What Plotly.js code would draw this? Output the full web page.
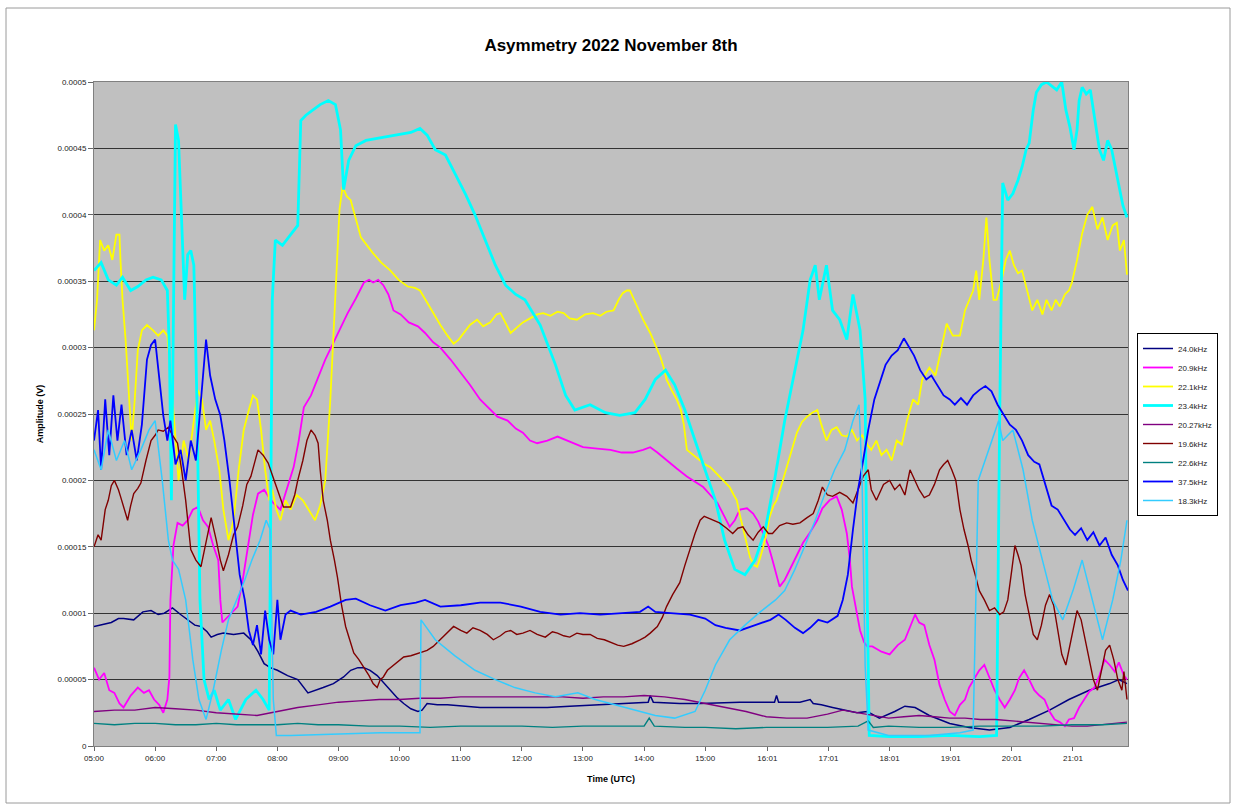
<!DOCTYPE html>
<html>
<head>
<meta charset="utf-8">
<script src="https://cdn.plot.ly/plotly-3.0.1.min.js"></script>
<style>
html,body{margin:0;padding:0;background:#fff;}
#chart{width:1235px;height:808px;}
</style>
</head>
<body>
<div id="chart"></div>
<script>
// ---- DATA (times UTC "HH:MM", amplitudes in microvolts) ----
const legendNames = ["24.0kHz","20.9kHz","22.1kHz","23.4kHz","20.27kHz","19.6kHz","22.6kHz","37.5kHz","18.3kHz"];
const seriesColors = ["#000080","#FF00FF","#FFFF00","#00FFFF","#800080","#800000","#008080","#0000FF","#33CCFF"];
const xTickLabels = ["05:00","06:00","07:00","08:00","09:00","10:00","11:00","12:00","13:00","14:00","15:00","16:01","17:01","18:01","19:01","20:01","21:01"];
const yTickVals = [0,0.00005,0.0001,0.00015,0.0002,0.00025,0.0003,0.00035,0.0004,0.00045,0.0005];
const yTickLabels = ["0","0.00005","0.0001","0.00015","0.0002","0.00025","0.0003","0.00035","0.0004","0.00045","0.0005"];

const t_240 = ["05:00","05:07","05:17","05:24","05:29","05:39","05:48","05:56","06:03","06:09","06:17","06:25","06:32","06:39","06:45","06:51","06:55","07:01","07:07","07:17","07:27","07:34","07:41","07:47","07:53","08:00","08:10","08:20","08:30","08:38","08:45","08:55","09:05","09:12","09:19","09:25","09:31","09:38","09:45","09:51","09:58","10:04","10:11","10:18","10:22","10:27","10:37","10:47","11:05","11:19","11:39","11:58","12:25","12:47","13:14","13:36","14:04","14:06","14:09","14:35","14:55","15:34","16:08","16:10","16:12","16:33","16:43","16:46","16:54","17:05","17:17","17:29","17:39","17:51","18:06","18:16","18:26","18:40","19:00","19:19","19:39","19:59","20:18","20:38","20:57","21:17","21:37","21:46","21:54"];
const uv_240 = [90,91,93,96,96,95,101,102,99,100,104,99,95,91,90,86,82,84,85,84,85,80,71,62,59,57,53,50,40,42,44,47,52,57,59,59,57,53,47,42,36,32,28,26,27,32,31,31,30,29,29,29,29,30,31,32,33,38,33,32,32,33,33,38,33,33,35,32,31,29,27,25,26,21,26,30,29,23,17,14,12,14,20,27,35,42,47,50,47];

const t_209 = ["05:00","05:05","05:10","05:15","05:20","05:25","05:29","05:36","05:43","05:49","05:54","05:59","06:04","06:08","06:12","06:14","06:15","06:18","06:22","06:27","06:32","06:37","06:42","06:47","06:52","06:57","07:02","07:04","07:06","07:11","07:16","07:21","07:26","07:31","07:36","07:41","07:47","07:52","07:56","08:03","08:09","08:16","08:21","08:26","08:33","08:41","08:47","08:54","09:01","09:09","09:17","09:25","09:30","09:34","09:39","09:44","09:49","09:54","10:01","10:09","10:18","10:25","10:33","10:40","10:50","11:00","11:09","11:19","11:27","11:36","11:46","11:54","12:01","12:08","12:15","12:25","12:35","12:47","13:00","13:14","13:27","13:38","13:49","13:59","14:06","14:13","14:22","14:32","14:42","14:52","14:58","15:05","15:12","15:18","15:24","15:29","15:34","15:41","15:47","15:52","15:57","16:02","16:06","16:10","16:13","16:18","16:23","16:30","16:36","16:43","16:50","16:55","17:02","17:09","17:14","17:19","17:22","17:24","17:29","17:32","17:36","17:39","17:44","17:53","18:01","18:09","18:16","18:21","18:26","18:30","18:35","18:40","18:45","18:50","18:55","19:00","19:05","19:10","19:15","19:19","19:24","19:29","19:34","19:39","19:44","19:49","19:54","19:59","20:04","20:08","20:13","20:18","20:23","20:28","20:33","20:38","20:43","20:48","20:53","20:57","21:02","21:07","21:12","21:17","21:22","21:27","21:32","21:37","21:42","21:46","21:51","21:54"];
const uv_209 = [59,50,55,42,40,32,29,38,44,40,42,35,31,25,35,52,110,151,168,166,170,178,180,170,165,151,140,110,93,97,101,105,125,148,174,190,193,187,183,178,193,210,230,255,264,279,291,302,313,326,337,349,351,349,351,347,340,328,325,319,316,311,304,300,291,281,272,261,255,248,245,239,236,230,228,230,233,229,225,224,223,221,221,223,225,221,215,209,203,198,195,189,183,174,165,170,178,179,175,169,160,151,140,129,120,125,133,144,153,161,170,179,185,188,178,160,140,120,101,87,78,75,75,71,69,76,80,89,99,93,91,76,65,46,35,26,23,31,35,44,50,57,61,51,42,35,29,35,42,51,57,50,42,38,35,26,20,18,15,20,21,29,35,41,44,53,65,61,56,63,53,50];

const t_221 = ["05:00","05:03","05:06","05:10","05:14","05:18","05:22","05:25","05:26","05:28","05:31","05:34","05:37","05:40","05:43","05:47","05:52","05:58","06:03","06:08","06:12","06:15","06:19","06:23","06:28","06:33","06:38","06:42","06:46","06:50","06:54","06:58","07:03","07:07","07:12","07:17","07:22","07:27","07:32","07:36","07:40","07:44","07:48","07:52","07:55","07:59","08:03","08:08","08:13","08:19","08:25","08:31","08:37","08:42","08:47","08:52","08:57","09:01","09:04","09:08","09:12","09:17","09:22","09:28","09:34","09:42","09:51","09:59","10:08","10:15","10:20","10:27","10:33","10:40","10:47","10:53","10:58","11:03","11:09","11:16","11:22","11:29","11:35","11:39","11:44","11:49","11:55","12:01","12:08","12:15","12:21","12:28","12:35","12:41","12:47","12:54","13:02","13:10","13:17","13:23","13:30","13:35","13:39","13:43","13:46","13:50","13:53","13:59","14:06","14:11","14:16","14:20","14:22","14:27","14:32","14:36","14:39","14:42","14:48","14:55","15:00","15:05","15:10","15:14","15:19","15:24","15:28","15:31","15:34","15:37","15:41","15:44","15:48","15:51","15:54","15:57","16:01","16:03","16:07","16:10","16:15","16:20","16:25","16:30","16:35","16:40","16:45","16:50","16:54","16:59","17:04","17:09","17:14","17:19","17:24","17:29","17:34","17:39","17:43","17:48","17:53","17:58","18:03","18:08","18:13","18:18","18:24","18:29","18:33","18:40","18:46","18:51","18:57","19:03","19:10","19:15","19:19","19:23","19:26","19:29","19:33","19:36","19:39","19:43","19:46","19:51","19:55","19:59","20:03","20:07","20:11","20:16","20:21","20:26","20:31","20:35","20:40","20:44","20:48","20:53","20:57","21:00","21:05","21:10","21:15","21:20","21:25","21:30","21:35","21:40","21:44","21:47","21:51","21:54"];
const uv_221 = [313,336,381,373,377,366,385,385,366,336,306,268,230,261,298,313,317,313,309,313,309,283,238,200,230,215,245,268,261,238,245,230,208,178,155,170,208,238,253,264,261,238,208,185,193,178,170,185,178,189,185,178,170,181,200,261,343,404,421,414,411,396,383,377,371,364,358,351,346,345,343,334,326,317,309,303,306,311,317,321,316,319,325,326,319,311,315,319,322,325,326,324,327,326,322,321,325,326,324,327,328,336,341,343,343,336,331,321,311,302,293,283,276,268,261,253,242,223,219,215,212,210,206,203,199,195,189,185,174,165,151,142,136,135,142,150,163,172,181,185,197,210,223,236,244,248,251,253,242,230,238,240,234,233,238,230,234,227,223,230,219,223,215,230,227,245,261,257,276,285,279,298,318,309,309,328,336,343,358,336,366,398,366,336,336,351,366,373,362,356,358,343,328,336,325,336,328,336,331,340,343,349,366,386,400,406,389,398,381,392,394,373,381,355];

const t_234 = ["05:00","05:07","05:14","05:22","05:28","05:36","05:43","05:51","05:58","06:06","06:12","06:14","06:16","06:18","06:20","06:23","06:26","06:29","06:32","06:35","06:38","06:41","06:44","06:48","06:53","06:58","07:04","07:12","07:19","07:29","07:39","07:46","07:52","07:55","07:58","08:05","08:13","08:20","08:23","08:28","08:35","08:42","08:50","08:57","09:02","09:05","09:10","09:17","09:27","09:41","09:56","10:11","10:20","10:27","10:35","10:45","10:55","11:05","11:14","11:24","11:34","11:44","11:54","12:03","12:18","12:33","12:43","12:52","13:07","13:22","13:36","13:51","14:01","14:11","14:21","14:30","14:40","14:50","15:00","15:10","15:19","15:29","15:39","15:49","15:59","16:08","16:18","16:28","16:36","16:43","16:48","16:52","16:59","17:05","17:12","17:19","17:25","17:32","17:37","17:39","17:41","18:01","18:30","19:00","19:29","19:46","19:49","19:52","19:57","20:02","20:07","20:11","20:15","20:18","20:22","20:25","20:30","20:35","20:40","20:45","20:50","20:54","20:58","21:02","21:05","21:07","21:10","21:14","21:18","21:21","21:24","21:27","21:31","21:35","21:39","21:43","21:47","21:50","21:54"];
const uv_234 = [358,364,351,347,353,343,346,351,353,351,343,298,185,336,468,456,396,336,370,373,362,261,110,50,35,42,27,35,20,35,42,35,27,336,381,377,385,392,471,475,479,483,486,483,464,419,441,452,456,458,460,462,465,460,449,445,430,415,400,381,362,347,340,336,317,287,264,253,257,251,249,251,261,276,283,272,253,230,208,185,155,133,129,140,163,200,245,283,313,351,362,336,362,328,321,306,340,313,261,110,8,7,7,8,7,8,245,424,411,416,426,436,449,454,479,492,498,500,497,494,500,479,466,449,464,486,496,491,494,479,464,449,441,456,449,434,419,407,398];

const t_2027 = ["05:00","05:20","05:40","06:00","06:20","06:40","07:00","07:20","07:40","08:00","08:20","08:40","09:00","09:20","09:40","10:00","10:20","10:40","11:00","11:20","11:40","12:00","12:20","12:40","13:00","13:20","13:40","14:00","14:20","14:40","15:00","15:20","15:40","16:00","16:20","16:40","17:00","17:15","17:30","17:45","18:00","18:15","18:30","18:45","19:00","19:15","19:30","19:45","20:00","20:15","20:30","20:45","21:00","21:15","21:30","21:45","21:54"];
const uv_2027 = [26,27,27,29,28,27,25,24,23,26,29,31,33,34,35,35,36,36,37,37,37,37,37,37,36,37,37,38,37,35,32,29,26,22,21,21,24,27,25,23,21,22,23,22,21,21,20,20,19,18,17,16,15,15,16,17,18];

const t_196 = ["05:00","05:04","05:07","05:11","05:14","05:17","05:20","05:24","05:26","05:30","05:33","05:36","05:39","05:43","05:46","05:51","05:56","06:00","06:03","06:08","06:13","06:17","06:22","06:26","06:30","06:35","06:40","06:45","06:50","06:55","07:00","07:04","07:07","07:12","07:17","07:21","07:26","07:30","07:34","07:38","07:41","07:46","07:51","07:55","08:00","08:06","08:13","08:17","08:20","08:25","08:29","08:33","08:37","08:40","08:42","08:45","08:49","08:52","08:56","08:59","09:03","09:07","09:11","09:15","09:20","09:25","09:30","09:34","09:38","09:41","09:44","09:48","09:51","09:57","10:04","10:11","10:20","10:27","10:33","10:40","10:47","10:53","11:00","11:06","11:12","11:19","11:26","11:32","11:39","11:44","11:49","11:55","12:01","12:08","12:15","12:23","12:30","12:35","12:41","12:47","12:54","13:00","13:07","13:14","13:21","13:27","13:34","13:40","13:48","13:56","14:01","14:06","14:13","14:18","14:22","14:28","14:35","14:40","14:45","14:50","14:55","14:59","15:02","15:08","15:14","15:21","15:27","15:32","15:37","15:42","15:47","15:52","15:57","16:02","16:06","16:13","16:20","16:26","16:33","16:40","16:46","16:51","16:55","17:00","17:05","17:12","17:19","17:25","17:30","17:35","17:40","17:43","17:48","17:55","18:01","18:06","18:11","18:16","18:21","18:26","18:30","18:35","18:40","18:45","18:50","18:54","18:58","19:02","19:06","19:10","19:14","19:18","19:21","19:25","19:29","19:34","19:39","19:44","19:49","19:53","19:57","20:01","20:04","20:07","20:10","20:14","20:18","20:22","20:26","20:30","20:34","20:38","20:42","20:46","20:50","20:54","20:57","21:01","21:05","21:09","21:13","21:17","21:21","21:25","21:29","21:33","21:37","21:41","21:45","21:49","21:51","21:54"];
const uv_196 = [150,159,155,178,185,196,200,193,188,178,170,181,190,194,198,215,230,234,238,237,240,234,228,208,185,148,140,135,155,172,155,140,132,144,159,165,181,197,203,215,223,219,213,204,193,180,180,189,200,215,230,238,234,228,208,185,170,155,140,127,106,90,80,70,65,59,53,47,44,50,52,57,59,63,67,68,70,72,75,80,85,90,87,85,89,87,84,80,83,86,87,84,85,87,84,82,86,85,83,82,85,84,84,81,80,78,76,75,77,80,82,85,90,97,105,114,123,136,148,160,170,173,172,170,168,164,160,164,165,159,155,161,165,160,160,166,168,167,168,172,175,185,195,189,188,191,188,183,193,203,208,193,185,197,200,193,197,189,208,200,193,187,189,197,208,212,215,208,200,178,163,151,140,129,117,110,102,104,99,101,110,133,151,144,136,114,99,84,80,91,106,114,106,87,69,61,72,87,102,95,80,65,50,42,57,72,76,65,50,42,56,35];

const t_226 = ["05:00","05:20","05:40","06:00","06:20","06:40","07:00","07:20","07:40","08:00","08:20","08:40","09:00","09:30","10:00","10:30","11:00","11:30","12:00","12:30","13:00","13:30","14:00","14:05","14:10","14:40","15:00","15:30","16:00","16:30","17:00","17:30","17:40","17:45","18:00","18:30","19:00","19:30","20:00","20:30","21:00","21:30","21:54"];
const uv_226 = [17,16,17,17,16,16,17,16,16,16,17,16,16,15,15,14,15,15,15,14,15,15,15,21,15,14,14,13,14,14,14,15,19,14,15,14,14,15,15,15,16,16,17];

const t_375 = ["05:00","05:04","05:07","05:11","05:15","05:19","05:23","05:27","05:32","05:37","05:42","05:47","05:52","05:56","06:00","06:04","06:08","06:12","06:15","06:20","06:25","06:30","06:35","06:40","06:45","06:50","06:54","06:59","07:04","07:08","07:13","07:18","07:23","07:28","07:32","07:36","07:40","07:44","07:48","07:52","07:56","08:00","08:03","08:08","08:13","08:23","08:38","08:52","09:07","09:17","09:31","09:46","10:01","10:16","10:25","10:40","11:00","11:19","11:39","11:59","12:18","12:38","12:57","13:17","13:37","13:56","14:04","14:11","14:26","14:45","15:00","15:10","15:20","15:34","15:49","16:04","16:12","16:19","16:28","16:36","16:43","16:51","17:00","17:10","17:15","17:20","17:25","17:30","17:35","17:40","17:46","17:52","17:57","18:03","18:09","18:15","18:19","18:25","18:31","18:37","18:42","18:48","18:54","19:00","19:05","19:11","19:17","19:23","19:29","19:35","19:41","19:47","19:53","19:59","20:05","20:11","20:17","20:23","20:28","20:34","20:40","20:46","20:52","20:58","21:03","21:09","21:15","21:21","21:27","21:33","21:39","21:45","21:50","21:55"];
const uv_375 = [230,253,208,261,219,264,230,257,219,238,215,242,291,302,306,279,249,230,245,212,223,200,230,215,261,306,279,261,249,230,200,163,129,110,87,76,91,69,102,80,69,110,80,99,102,99,101,105,110,111,106,102,106,108,110,105,106,108,108,105,101,99,100,99,100,101,105,101,100,99,96,91,89,87,91,95,99,95,89,85,89,95,93,98,110,129,163,193,215,238,261,276,287,294,298,307,302,294,283,276,279,272,264,261,257,262,257,264,268,271,267,257,249,242,238,230,219,214,212,197,181,178,170,163,159,164,155,161,151,157,144,136,125,117];

const t_183 = ["05:00","05:07","05:14","05:22","05:30","05:37","05:46","05:54","06:00","06:07","06:13","06:17","06:23","06:30","06:37","06:43","06:50","06:57","07:05","07:12","07:20","07:28","07:35","07:43","07:49","07:53","07:56","07:59","08:13","08:52","09:41","10:20","10:21","10:35","10:54","11:14","11:34","11:53","12:13","12:33","12:55","13:12","13:31","13:51","14:11","14:30","14:50","15:00","15:10","15:24","15:39","15:54","16:09","16:18","16:28","16:38","16:48","16:57","17:07","17:17","17:25","17:31","17:34","17:37","17:40","18:00","18:40","19:10","19:23","19:28","19:38","19:48","19:52","20:02","20:12","20:21","20:31","20:41","20:51","21:01","21:10","21:20","21:30","21:40","21:48","21:54"];
const uv_183 = [223,208,238,215,230,208,223,238,245,200,155,140,133,110,65,35,20,42,72,95,110,125,140,155,170,163,35,8,8,9,10,10,95,80,68,57,50,44,40,37,40,35,31,27,23,21,26,42,61,80,91,101,110,117,133,151,170,189,208,223,245,257,200,60,12,8,8,10,12,200,223,245,230,238,208,170,140,110,95,117,140,110,80,110,140,170];

// ---- BUILD ----
const D = s => "2022-11-08 " + s;
const times = [t_240,t_209,t_221,t_234,t_2027,t_196,t_226,t_375,t_183];
const vals  = [uv_240,uv_209,uv_221,uv_234,uv_2027,uv_196,uv_226,uv_375,uv_183];
const widths = [1.5,1.8,1.8,2.8,1.4,1.4,1.4,1.8,1.5];

const traces = legendNames.map((name,i)=>({
  type:"scatter", mode:"lines", name:name,
  x: times[i].map(D),
  y: vals[i].map(v=>v*1e-6),
  line:{color:seriesColors[i], width:widths[i]}
}));

const hourVals = ["05:00","06:00","07:00","08:00","09:00","10:00","11:00","12:00","13:00","14:00","15:00","16:01","17:01","18:01","19:01","20:01","21:01"];

const L = 94, R = 1128, T = 82, B = 746, W = 1235, H = 808;
const px = x => (x - L)/(R - L);
const py = y => (B - y)/(B - T);

const layout = {
  width:W, height:H,
  margin:{l:L, r:W-R, t:T, b:H-B, pad:0},
  paper_bgcolor:"#ffffff",
  plot_bgcolor:"#C0C0C0",
  font:{family:"Arial, Liberation Sans, sans-serif", color:"#000"},
  title:{text:"<b>Asymmetry 2022 November 8th</b>", font:{size:17, family:"Arial, Liberation Sans, sans-serif", color:"#000"}, x:0.5, xref:"paper", y:1-45/H, yref:"container", yanchor:"middle"},
  xaxis:{
    type:"date",
    range:[D("05:00"), D("21:55")],
    tickvals: hourVals.map(D),
    ticktext: xTickLabels,
    tickfont:{size:8, color:"#222"},
    ticks:"outside", ticklen:4, tickcolor:"#666",
    showgrid:false, zeroline:false,
    showline:true, linecolor:"#808080", linewidth:1, mirror:true,
    title:{text:"<b>Time (UTC)</b>", font:{size:9, color:"#000"}, standoff:14}
  },
  yaxis:{
    range:[0,0.0005],
    tickvals: yTickVals, ticktext: yTickLabels,
    tickfont:{size:8, color:"#222"},
    ticks:"outside", ticklen:5, tickcolor:"#666",
    showgrid:true, gridcolor:"#333", gridwidth:1,
    zeroline:false,
    showline:true, linecolor:"#808080", linewidth:1, mirror:true,
    title:{text:"<b>Amplitude (V)</b>", font:{size:9, color:"#000"}, standoff:12}
  },
  legend:{
    x:px(1137), y:py(333), xanchor:"left", yanchor:"top",
    bgcolor:"#ffffff", bordercolor:"#000", borderwidth:1,
    font:{size:8, color:"#222"},
    tracegroupgap:0, itemwidth:30
  },
  shapes:[
    {type:"rect", xref:"paper", yref:"paper", x0:px(6), x1:px(1230), y0:py(803), y1:py(8), line:{color:"#9a9a9a", width:1}, fillcolor:"rgba(0,0,0,0)", layer:"below"}
  ],
  showlegend:true
};

Plotly.newPlot("chart", traces, layout, {displayModeBar:false, staticPlot:true});
</script>
</body>
</html>
